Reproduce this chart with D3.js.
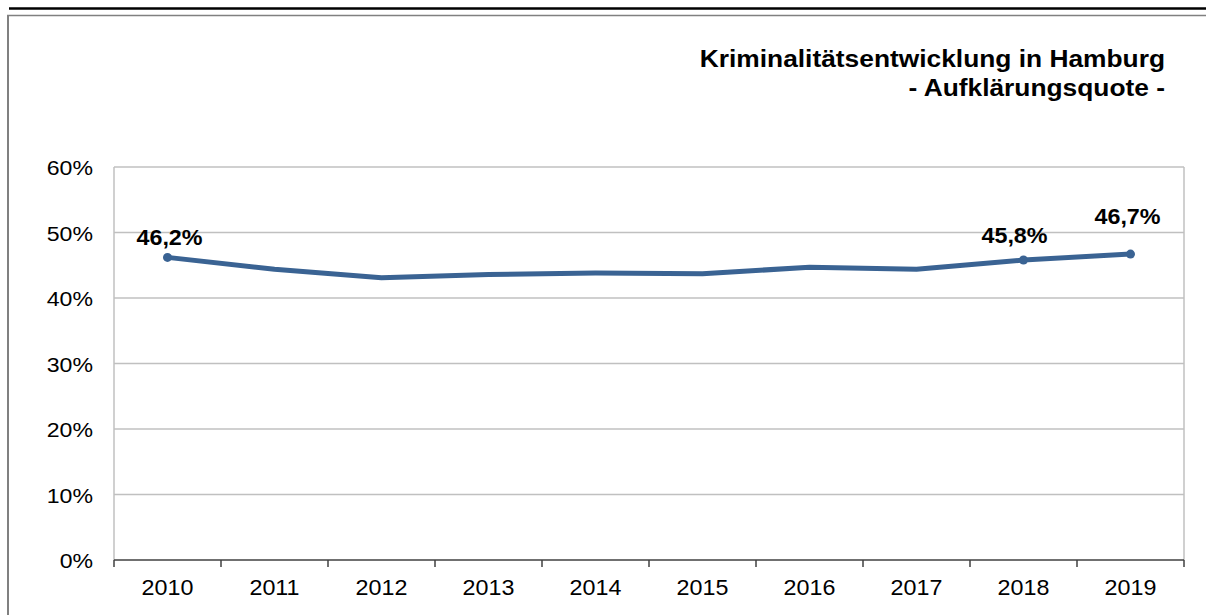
<!DOCTYPE html>
<html>
<head>
<meta charset="utf-8">
<script src="https://cdn.jsdelivr.net/npm/d3@7"></script>
<style>
  body { margin: 0; background: #fff; }
  svg { display: block; font-family: "Liberation Sans", Arial, sans-serif; }
</style>
</head>
<body>
<div id="container"></div>
<script>
// data

const years = ["2010", "2011", "2012", "2013", "2014", "2015", "2016", "2017", "2018", "2019"];
const quote = [46.2, 44.4, 43.1, 43.6, 43.8, 43.7, 44.7, 44.4, 45.8, 46.7];
const yTicks = [0, 10, 20, 30, 40, 50, 60];
const labelledYears = ["2010", "2018", "2019"];
const titleLines = ["Kriminalitätsentwicklung in Hamburg", "- Aufklärungsquote -"];

// variables

const width = 1206;
const height = 615;
const margin = { top: 167, right: 22, bottom: 55, left: 114 };

const fmt = v => v.toFixed(1).replace(".", ",") + "%";

// label nudges (manually placed in the original)
const labelOffset = { "2010": [2, -12], "2018": [-9, -17], "2019": [-3, -30] };

// the original text is a bit wider than the font, so stretch it horizontally
const place = (sel, x, y, sx) => sel.attr("transform", (d, i) => `translate(${x(d, i)},${y(d, i)}) scale(${sx},1)`);

const svg = d3.select("#container")
    .append("svg")
    .attr("width", width)
    .attr("height", height);

// frame
svg.append("line")
    .attr("x1", 9).attr("x2", width).attr("y1", 8.5).attr("y2", 8.5)
    .attr("stroke", "#000").attr("stroke-width", 2.5);
svg.append("line")
    .attr("x1", 7).attr("x2", width).attr("y1", 15.5).attr("y2", 15.5)
    .attr("stroke", "#808080").attr("stroke-width", 1.5);
svg.append("line")
    .attr("x1", 8).attr("x2", 8).attr("y1", 15).attr("y2", height)
    .attr("stroke", "#808080").attr("stroke-width", 2);

// scales

const xScale = d3.scaleBand()
    .domain(years)
    .range([margin.left, width - margin.right]);

const yScale = d3.scaleLinear()
    .domain([0, 60])
    .range([height - margin.bottom, margin.top]);

const cx = d => xScale(d) + xScale.bandwidth() / 2;

// gridlines
svg.append("g")
    .selectAll("line")
    .data(yTicks.filter(d => d > 0))
    .join("line")
    .attr("x1", margin.left)
    .attr("x2", width - margin.right)
    .attr("y1", d => yScale(d))
    .attr("y2", d => yScale(d))
    .attr("stroke", "#c0c0c0")
    .attr("stroke-width", 1.5);

// plot side borders
[margin.left, width - margin.right].forEach(x => {
    svg.append("line")
        .attr("x1", x).attr("x2", x)
        .attr("y1", margin.top).attr("y2", yScale(0))
        .attr("stroke", "#c0c0c0").attr("stroke-width", 1.5);
});

// y axis labels
svg.append("g")
    .selectAll("text")
    .data(yTicks)
    .join("text")
    .call(place, () => margin.left - 21, d => yScale(d) + 8, 1.1)
    .attr("text-anchor", "end")
    .attr("font-size", 21)
    .attr("fill", "#000")
    .text(d => d + "%");

// x axis line
svg.append("line")
    .attr("x1", margin.left).attr("x2", width - margin.right)
    .attr("y1", yScale(0)).attr("y2", yScale(0))
    .attr("stroke", "#404040").attr("stroke-width", 1.5);

// tick marks between bands
const bounds = years.map(d => xScale(d)).concat([xScale.range()[1]]);
svg.append("g")
    .selectAll("line")
    .data(bounds)
    .join("line")
    .attr("x1", d => d).attr("x2", d => d)
    .attr("y1", yScale(0)).attr("y2", yScale(0) + 7)
    .attr("stroke", "#404040")
    .attr("stroke-width", 1.5);

// year labels
svg.append("g")
    .selectAll("text")
    .data(years)
    .join("text")
    .call(place, d => cx(d), () => yScale(0) + 35, 1.06)
    .attr("text-anchor", "middle")
    .attr("font-size", 22)
    .attr("fill", "#000")
    .text(d => d);

// line
const line = d3.line()
    .x((d, i) => cx(years[i]))
    .y(d => yScale(d));

svg.append("path")
    .datum(quote)
    .attr("d", line)
    .attr("fill", "none")
    .attr("stroke", "#3a6393")
    .attr("stroke-width", 5)
    .attr("stroke-linejoin", "round");

// markers + labels for selected years
const labelled = years.map((y, i) => ({ year: y, value: quote[i] }))
    .filter(d => labelledYears.includes(d.year));

svg.append("g")
    .selectAll("circle")
    .data(labelled)
    .join("circle")
    .attr("cx", d => cx(d.year))
    .attr("cy", d => yScale(d.value))
    .attr("r", 4.5)
    .attr("fill", "#3a6393");

svg.append("g")
    .selectAll("text")
    .data(labelled)
    .join("text")
    .call(place, d => cx(d.year) + labelOffset[d.year][0], d => yScale(d.value) + labelOffset[d.year][1], 1.06)
    .attr("text-anchor", "middle")
    .attr("font-size", 22)
    .attr("font-weight", "bold")
    .attr("fill", "#000")
    .text(d => fmt(d.value));

// title
svg.append("g")
    .selectAll("text")
    .data(titleLines)
    .join("text")
    .call(place, () => 1165, (d, i) => 67 + i * 29, 1.145)
    .attr("text-anchor", "end")
    .attr("font-size", 23)
    .attr("font-weight", "bold")
    .attr("fill", "#000")
    .text(d => d);
</script>
</body>
</html>
